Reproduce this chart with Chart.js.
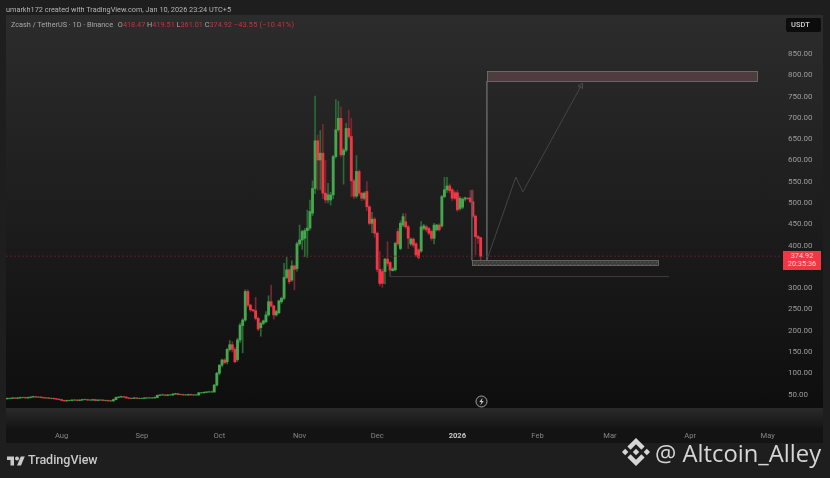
<!DOCTYPE html>
<html>
<head>
<meta charset="utf-8">
<title>Zcash / TetherUS</title>
<script src="https://cdn.jsdelivr.net/npm/chart.js@4"></script>
<style>
html, body { margin: 0; padding: 0; background: #1e1e1e; }
#page { position: relative; width: 830px; height: 478px; overflow: hidden; font-family: Roboto, sans-serif; filter: blur(0.3px); }
#pane { position: absolute; left: 6px; top: 15px; width: 817px; height: 393px; background: linear-gradient(#2c2c2c, #0e0e0e); }
#strip { position: absolute; left: 6px; top: 408px; width: 817px; height: 20px; background: linear-gradient(#2a2a2a, #151515); }
#axis { position: absolute; left: 6px; top: 428px; width: 817px; height: 15px; background: #131313; }
canvas { position: absolute; left: 0; top: 0; }
.t { position: absolute; white-space: nowrap; }
#credit { left: 6px; top: 5px; font-size: 7.3px; color: #b5b5b5; }
#title { left: 11px; top: 20px; font-size: 7.3px; color: #a8a8a8; }
#title b { font-weight: 400; color: #c8323f; }
#title em { font-style: normal; margin-left: 3px; }
#title .chg { letter-spacing: 0.2px; }
#unit { left: 786px; top: 18px; width: 35px; height: 14px; line-height: 14px; background: #0c0c0c; border-radius: 2px; color: #d0d0d0; font-size: 7.5px; font-weight: 500; text-indent: 5px; }
#tag { left: 783px; top: 251px; width: 38px; height: 18px; background: #f23645; color: #f0d8da; font-size: 7.4px; line-height: 8.6px; text-align: center; padding-top: 0.5px; }
#tvname { left: 28px; top: 452px; font-size: 12.5px; font-weight: 500; color: #c9c9c9; }
#mark { left: 655px; top: 437px; font-family: "Open Sans", sans-serif; font-size: 23.8px; color: #d6d6d6; }
svg { position: absolute; }
</style>
</head>
<body>
<div id="page">
  <div id="pane"></div><div id="strip"></div><div id="axis"></div>
  <canvas id="chart" width="830" height="478"></canvas>
  <div class="t" id="credit">umarkh172 created with TradingView.com, Jan 10, 2026 23:24 UTC+5</div>
  <div class="t" id="title">Zcash / TetherUS · 1D · Binance <em>O</em><b>418.47</b> H<b>419.51</b> L<b>361.01</b> C<b>374.92</b> <b class="chg">−43.55 (−10.41%)</b></div>
  <div class="t" id="unit">USDT</div>
  <div class="t" id="tag">374.92<br>20:35:36</div>
  <svg style="left:475px;top:395px" width="13" height="13" viewBox="0 0 13 13"><circle cx="6.5" cy="6.5" r="5.5" fill="#161616" stroke="#a5a5a5" stroke-width="1"/><path d="M7.6 2.8 4.3 7h2l-.9 3.2L8.8 6H6.8z" fill="#c5c5c5"/></svg>
  <svg style="left:7px;top:456px" width="18" height="10" viewBox="0 3 36 20"><path fill="#c9c9c9" d="M14 22H7V11H0V4h14v18zM28 22h-8l7.5-18h8L28 22z"/><circle fill="#c9c9c9" cx="20" cy="8" r="4"/></svg>
  <div class="t" id="tvname">TradingView</div>
  <svg style="left:622px;top:438px" width="28" height="28" viewBox="0 0 126.61 126.61"><path fill="#d6d6d6" d="M38.73 53.2l24.59-24.58 24.6 24.6 14.3-14.31L63.32 0 24.42 38.9zM0 63.31l14.3-14.31 14.31 14.31-14.31 14.3zM38.73 73.41l24.59 24.59 24.6-24.6 14.31 14.29-38.9 38.91-38.91-38.88zM98 63.31l14.3-14.31 14.31 14.3-14.31 14.32zM77.83 63.3L63.32 48.78 52.59 59.51l-1.24 1.23-2.54 2.54 14.51 14.5 14.51-14.47z"/></svg>
  <div class="t" id="mark">@ Altcoin_Alley</div>
</div>
<script>
// daily candles, Jul 11 2025 to Jan 10 2026
var opens = [
    40,41,41,42,41,42,43,43,42,43, 44,45,44,44,43,42,42,41,41,40,
    39,38,36,35,36,36,37,37,36,37, 38,38,37,37,38,36,37,37,36,36,
    35,35,38,43,44,45,44,42,41,41, 42,41,41,41,42,42,42,42,43,48,
    49,49,48,49,49,51,52,50,50,49, 49,50,49,49,49,54,54,55,56,56,
    56,72,100,119,131,127,156,167,156,132, 178,212,225,292,260,249,247,229,207,217,
    221,237,268,258,237,242,268,276,325,343, 319,352,346,404,413,417,435,441,476,534,
    646,601,617,523,507,507,519,609,672,699, 613,624,675,656,552,516,574,523,511,527,
    491,452,462,429,344,339,339,368,360,341, 343,433,393,448,456,444,404,415,404,390,
    387,440,444,440,433,417,437,448,446,515, 531,540,531,524,524,487,490,509,511,512,
    503,469,421,418.47
];
var highs = [
    42,42,43,43,43,44,44,44,44,45, 46,46,45,45,44,43,43,42,42,41,
    40,39,37,37,37,38,38,38,38,39, 39,39,38,39,39,38,38,38,37,37,
    36,39,44,45,46,46,45,43,42,43, 43,42,42,43,43,43,43,44,49,50,
    51,50,50,50,52,53,53,51,51,50, 51,51,50,50,55,55,56,57,58,58,
    74,102,120,133,134,158,177,174,160,182, 218,228,296,296,262,250,278,232,220,225,
    245,282,307,260,248,272,279,358,372,345, 364,354,408,448,436,440,483,507,552,751,
    660,670,685,600,546,525,612,743,739,726, 628,687,718,699,556,611,578,525,526,550,
    494,478,466,432,386,345,370,409,362,348, 408,440,458,475,475,448,418,418,407,392,
    456,450,448,443,436,452,450,451,518,560, 560,545,535,528,530,515,512,514,513,530,
    530,472,424,419.51
];
var lows = [
    39,40,40,40,40,41,42,41,41,42, 43,43,43,42,41,41,40,40,39,38,
    37,35,34,34,35,35,36,35,35,36, 37,36,36,36,35,35,36,35,35,34,
    34,34,37,42,43,43,41,40,40,40, 40,40,40,40,41,41,41,41,42,47,
    48,47,47,48,48,50,49,49,48,48, 48,48,48,48,48,53,53,54,55,55,
    55,70,96,115,122,122,152,150,124,128, 172,148,222,256,245,244,225,200,187,214,
    218,234,255,227,234,240,264,272,322,310, 316,296,340,400,391,374,372,436,470,522,
    530,531,510,500,500,495,510,605,668,608, 544,620,652,515,510,512,518,505,507,482,
    448,430,420,338,305,302,310,352,337,340, 340,400,390,444,440,393,400,396,374,368,
    384,436,432,425,412,404,434,434,443,512, 525,524,505,507,480,483,486,505,508,500,
    465,378,405,361.01
];
var closes = [
    41,41,42,41,42,43,43,42,43,44, 45,44,44,43,42,42,41,41,40,39,
    38,36,35,36,36,37,37,36,37,38, 38,37,37,38,36,37,37,36,36,35,
    35,38,43,44,45,44,42,41,41,42, 41,41,41,42,42,42,42,43,48,49,
    49,48,49,49,51,52,50,50,49,49, 50,49,49,49,54,54,55,56,56,56,
    72,100,119,131,125,156,167,156,127,178, 213,225,292,260,249,247,229,204,217,223,
    237,268,258,237,245,270,276,325,343,315, 352,344,404,413,433,435,441,480,534,646,
    601,617,523,507,519,519,609,672,699,613, 624,675,656,552,516,574,523,511,523,491,
    452,462,429,344,311,311,368,358,341,345, 405,404,452,468,444,417,415,401,378,372,
    444,446,437,429,417,448,448,437,515,531, 540,529,511,511,484,511,509,512,510,503,
    469,421,417,374.92
];

// x axis: days on the chart and where the month labels sit
var firstDay = Date.UTC(2025, 6, 11);
var dayCount = 300;
var days = [];
for (var d = 0; d < dayCount; d++) {
    days.push(new Date(firstDay + d * 86400000).toISOString().slice(0, 10));
}
var monthDays = [21, 52, 82, 113, 143, 174, 205, 233, 264, 294];
var monthLabels = ['Aug', 'Sep', 'Oct', 'Nov', 'Dec', '2026', 'Feb', 'Mar', 'Apr', 'May'];
var priceTicks = [50, 100, 150, 200, 250, 300, 350, 400, 450, 500, 550, 600, 650, 700, 750, 800, 850];
var lastPrice = 374.92;

// drawings, [day, price]
var targetZone = [[185.4, 810], [289.7, 786.6]];
var entryZone = [[179.6, 365], [251.5, 355]];
var targetLeg = [[185.4, 786.6], [185.4, 362]];
var entryLeg = [[179.6, 530], [179.6, 365]];
var supportLine = [[148, 342], [148, 327], [255.8, 327]];
var projection = [[185.4, 366], [196.6, 561], [199.3, 526], [221.8, 775]];

function points(list) {
    return list.map(function (p) { return { x: p[0], y: p[1] }; });
}

function lineSet(list, color, width) {
    return {
        type: 'line', xAxisID: 'xd', data: points(list), parsing: false,
        borderColor: color, borderWidth: width, pointRadius: 0, tension: 0, order: 0
    };
}

function hatch(base, dot) {
    var c = document.createElement('canvas');
    c.width = 4; c.height = 4;
    var g = c.getContext('2d');
    g.fillStyle = base; g.fillRect(0, 0, 4, 4);
    g.fillStyle = dot; g.fillRect(0, 2, 1, 1); g.fillRect(2, 0, 1, 1);
    return g.createPattern(c, 'repeat');
}

var zonesPlugin = {
    id: 'zones',
    afterDatasetsDraw: function (chart) {
        var xs = chart.scales.xd, ys = chart.scales.y, g = chart.ctx;
        [
            [targetZone, hatch('#453f3f', '#6c3037'), '#757575'],
            [entryZone, hatch('#3a3d38', '#565a53'), '#6f6f6f']
        ].forEach(function (z) {
            var x0 = Math.round(xs.getPixelForValue(z[0][0][0])) + 0.5, x1 = Math.round(xs.getPixelForValue(z[0][1][0])) + 0.5;
            var y0 = Math.round(ys.getPixelForValue(z[0][0][1])) + 0.5, y1 = Math.round(ys.getPixelForValue(z[0][1][1])) + 0.5;
            g.save();
            g.fillStyle = z[1];
            g.fillRect(x0, y0, x1 - x0, y1 - y0);
            g.strokeStyle = z[2];
            g.lineWidth = 0.8;
            g.strokeRect(x0, y0, x1 - x0, y1 - y0);
            g.restore();
        });
    }
};

var projectionSet = lineSet(projection, '#474444', 1);
projectionSet.pointRadius = [0, 0, 0, 3];
projectionSet.pointStyle = 'triangle';
projectionSet.rotation = 29;
projectionSet.pointBorderColor = '#504c4c';
projectionSet.pointBackgroundColor = 'transparent';
projectionSet.pointBorderWidth = 1;

var priceSet = lineSet([[-0.5, lastPrice], [299.5, lastPrice]], '#74222d', 0.8);
priceSet.borderDash = [2, 2];

var isUp = closes.map(function (c, i) { return c >= opens[i]; });

new Chart(document.getElementById('chart'), {
    type: 'bar',
    data: {
        labels: days,
        datasets: [
            {
                data: opens.map(function (o, i) { return [o, closes[i]]; }),
                backgroundColor: isUp.map(function (u) { return u ? '#46a84e' : '#f23645'; }),
                barThickness: 2.2, grouped: false, order: 1
            },
            {
                data: lows.map(function (l, i) { return [l, highs[i]]; }),
                backgroundColor: isUp.map(function (u) { return u ? '#2c6a34' : '#7a2733'; }),
                barThickness: 1, grouped: false, order: 2
            },
            priceSet,
            lineSet(targetLeg, '#666666', 0.8),
            lineSet(entryLeg, '#5a5a5a', 0.8),
            lineSet(supportLine, '#443c3c', 1),
            projectionSet
        ]
    },
    options: {
        responsive: false,
        animation: false,
        layout: { padding: { left: 6, right: 0, top: 35, bottom: 36 } },
        plugins: { legend: { display: false }, tooltip: { enabled: false } },
        scales: {
            x: {
                grid: { display: false, drawTicks: false },
                border: { display: false },
                afterFit: function (s) { s.height = 14; },
                afterBuildTicks: function (s) {
                    s.ticks = s.ticks.filter(function (t) { return monthDays.indexOf(t.value) >= 0; });
                },
                ticks: {
                    autoSkip: false, maxRotation: 0, padding: 4,
                    callback: function (v) { return monthLabels[monthDays.indexOf(v)]; },
                    color: function (c) { return c.tick.label === '2026' ? '#c8c8c8' : '#868686'; },
                    font: function (c) {
                        return { family: 'Roboto', size: 7.6, weight: c.tick.label === '2026' ? '700' : '400' };
                    }
                }
            },
            xd: { type: 'linear', display: false, offset: false, min: -0.5, max: 299.5 },
            y: {
                position: 'right',
                min: -28.7, max: 894.6,
                grid: { display: false, drawTicks: false },
                border: { display: false },
                afterFit: function (s) { s.width = 48; },
                afterBuildTicks: function (s) {
                    s.ticks = priceTicks.map(function (v) { return { value: v }; });
                },
                ticks: {
                    padding: 6, color: '#9c9c9c',
                    font: { family: 'Roboto', size: 8 },
                    callback: function (v) { return v.toFixed(2); }
                }
            }
        }
    },
    plugins: [zonesPlugin]
});
</script>
</body>
</html>
